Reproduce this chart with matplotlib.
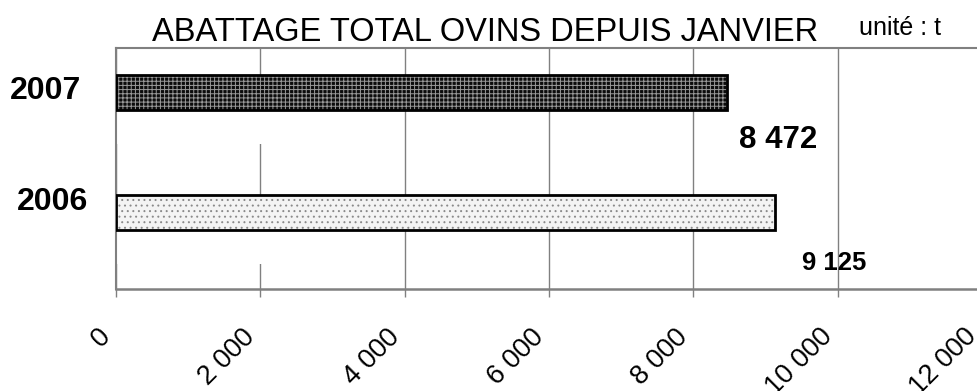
import numpy as np
import matplotlib
matplotlib.use("Agg")
from matplotlib import pyplot as plt
from matplotlib import transforms

plt.rcParams["font.family"] = ["Liberation Sans", "DejaVu Sans"]
plt.rcParams["hatch.linewidth"] = 0.7

# donnees
annees = ["2006", "2007"]
tonnes = [9125, 8472]
etiquettes = ["9 125", "8 472"]
xticks = [0, 2000, 4000, 6000, 8000, 10000, 12000]
xtick_labels = ["0", "2 000", "4 000", "6 000", "8 000", "10 000", "12 000"]

fig = plt.figure(figsize=(9.77, 3.91), dpi=100)
# axes: left 116px, right ~982px, top 48px, bottom 289px
ax = fig.add_axes([116/977, 1 - 289/391, 866/977, 241/391])

y = np.arange(len(annees))
bar_h = 0.29

# fond des barres + hachures
ax.barh(y[0], tonnes[0], height=bar_h, color="#f4f4f4", edgecolor="#8a8a8a",
        hatch="...", linewidth=0, zorder=3)
ax.barh(y[1], tonnes[1], height=bar_h, color="#0c0c0c", edgecolor="#9a9a9a",
        hatch="++++", linewidth=0, zorder=3)
# contours
ax.barh(y, tonnes, height=bar_h, fill=False, edgecolor="black", linewidth=2.0, zorder=4)

# bandes blanches sous les barres (masquent le debut du quadrillage)
ax.barh(y - bar_h/2 - 0.142, 3000, height=0.284, color="white", linewidth=0, zorder=1.5)

ax.set_xlim(0, 12000)
ax.set_ylim(-0.6375, 1.371)
ax.set_xticks(xticks)
ax.set_xticklabels(xtick_labels, rotation=45, ha="right", va="top", fontsize=19.5)
ax.tick_params(axis="x", length=6, width=1, color="#808080", pad=19, direction="out")
ax.grid(axis="x", color="#808080", linewidth=1, zorder=1)
ax.set_axisbelow(True)

ax.set_yticks(y)
ax.set_yticklabels(annees, fontsize=23, fontweight="bold")
ax.tick_params(axis="y", length=0, pad=22.5)
# decalages des annees
offs = [(3, 14), (-4, 5)]
for lab, (dx, dy) in zip(ax.get_yticklabels(), offs):
    lab.set_transform(lab.get_transform() + transforms.ScaledTranslation(dx/100, dy/100, fig.dpi_scale_trans))

for s in ["top", "bottom", "left"]:
    ax.spines[s].set_color("#808080")
ax.spines["bottom"].set_linewidth(1.8)
ax.spines["top"].set_linewidth(1.5)
ax.spines["left"].set_linewidth(1.5)
ax.spines["right"].set_visible(False)

# etiquettes de valeurs
ax.annotate(etiquettes[1], xy=(tonnes[1], y[1]), xytext=(8, -34), textcoords="offset points",
            ha="left", va="center", fontsize=22.5, fontweight="bold", zorder=5)
ax.annotate(etiquettes[0], xy=(tonnes[0], y[0]), xytext=(20, -36), textcoords="offset points",
            ha="left", va="center", fontsize=18.5, fontweight="bold", zorder=5)

fig.text(485/977, 1 - 41/391, "ABATTAGE TOTAL OVINS DEPUIS JANVIER", ha="center",
         va="baseline", fontsize=23.5)
fig.text(859/977, 1 - 35/391, "unité : t", ha="left", va="baseline", fontsize=18)

fig.savefig("out.png", dpi=100)
